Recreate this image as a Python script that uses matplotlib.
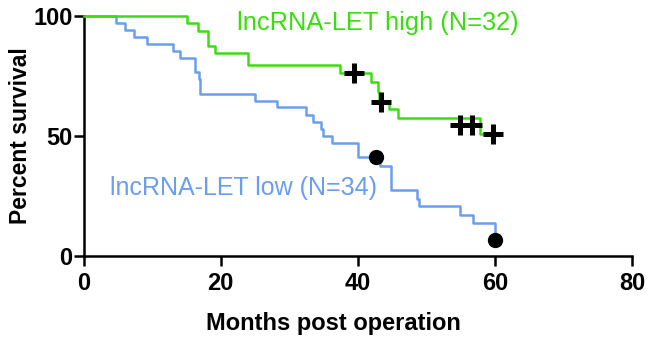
import matplotlib.pyplot as plt

plt.rcParams['font.family'] = ['Liberation Sans', 'DejaVu Sans']

# step curves: (month of event, percent surviving after it)
high_t = [0, 15.1, 16.7, 18.1, 19.2, 24.0, 37.4, 42.0, 42.9, 43.1, 44.5, 45.8, 57.8, 60.0]
high_s = [100, 96.9, 93.8, 87.5, 84.4, 79.5, 76.1, 72.6, 68.4, 64.2, 61.0, 57.4, 50.6, 50.6]
high_cens_t = [39.4, 43.4, 54.9, 56.6, 59.7]
high_cens_s = [76.0, 64.2, 54.4, 54.4, 50.6]

low_t = [0, 4.8, 6.0, 7.3, 9.2, 13.1, 14.1, 16.3, 16.8, 17.0, 25.0, 28.2, 32.5, 33.5,
         34.7, 35.0, 36.2, 40.0, 43.2, 44.9, 48.6, 49.0, 54.9, 56.8, 60.0]
low_s = [100, 97.1, 94.1, 91.2, 88.2, 85.3, 82.4, 76.5, 73.5, 67.6, 64.7, 61.8, 58.8, 55.9,
         52.9, 50.0, 47.1, 41.2, 37.5, 27.5, 23.5, 20.5, 17.0, 13.5, 6.5]
low_cens_t = [42.6, 60.0]
low_cens_s = [41.0, 6.5]

green = '#3ade10'
blue = '#6b9ef0'

fig = plt.figure(figsize=(6.5, 3.38), dpi=100)
ax = fig.add_axes([0.1285, 0.244, 0.8438, 0.7087])

ax.step(low_t, low_s, where='post', color=blue, lw=1.8, clip_on=False, zorder=2)
ax.step(high_t, high_s, where='post', color=green, lw=1.8, clip_on=False, zorder=3)
ax.plot(high_cens_t, high_cens_s, ls='none', marker='+', ms=14, mew=3.6,
        color='black', clip_on=False, zorder=4)
ax.plot(low_cens_t, low_cens_s, 'o', color='black', ms=10, clip_on=False, zorder=4)

ax.text(22.4, 97, 'lncRNA-LET high (N=32)', color=green, fontsize=18.3, va='center')
ax.text(3.8, 28, 'lncRNA-LET low (N=34)', color=blue, fontsize=18, va='center')

ax.set_xlim(0, 80)
ax.set_ylim(0, 100)
ax.set_xticks([0, 20, 40, 60, 80])
ax.set_yticks([0, 50, 100])
for s in ['top', 'right']:
    ax.spines[s].set_visible(False)
for s in ['left', 'bottom']:
    ax.spines[s].set_linewidth(1.8)
ax.tick_params(width=1.8, length=7, labelsize=17)
ax.tick_params(axis='x', pad=5)
ax.tick_params(axis='y', pad=1)
for lab in ax.get_xticklabels() + ax.get_yticklabels():
    lab.set_fontweight('bold')

ax.set_xlabel('Months post operation', fontsize=17, fontweight='bold')
ax.xaxis.set_label_coords(0.455, -0.235)
ax.set_ylabel('Percent survival', fontsize=16.5, fontweight='bold', labelpad=1)

fig.savefig('out.png', dpi=100)
